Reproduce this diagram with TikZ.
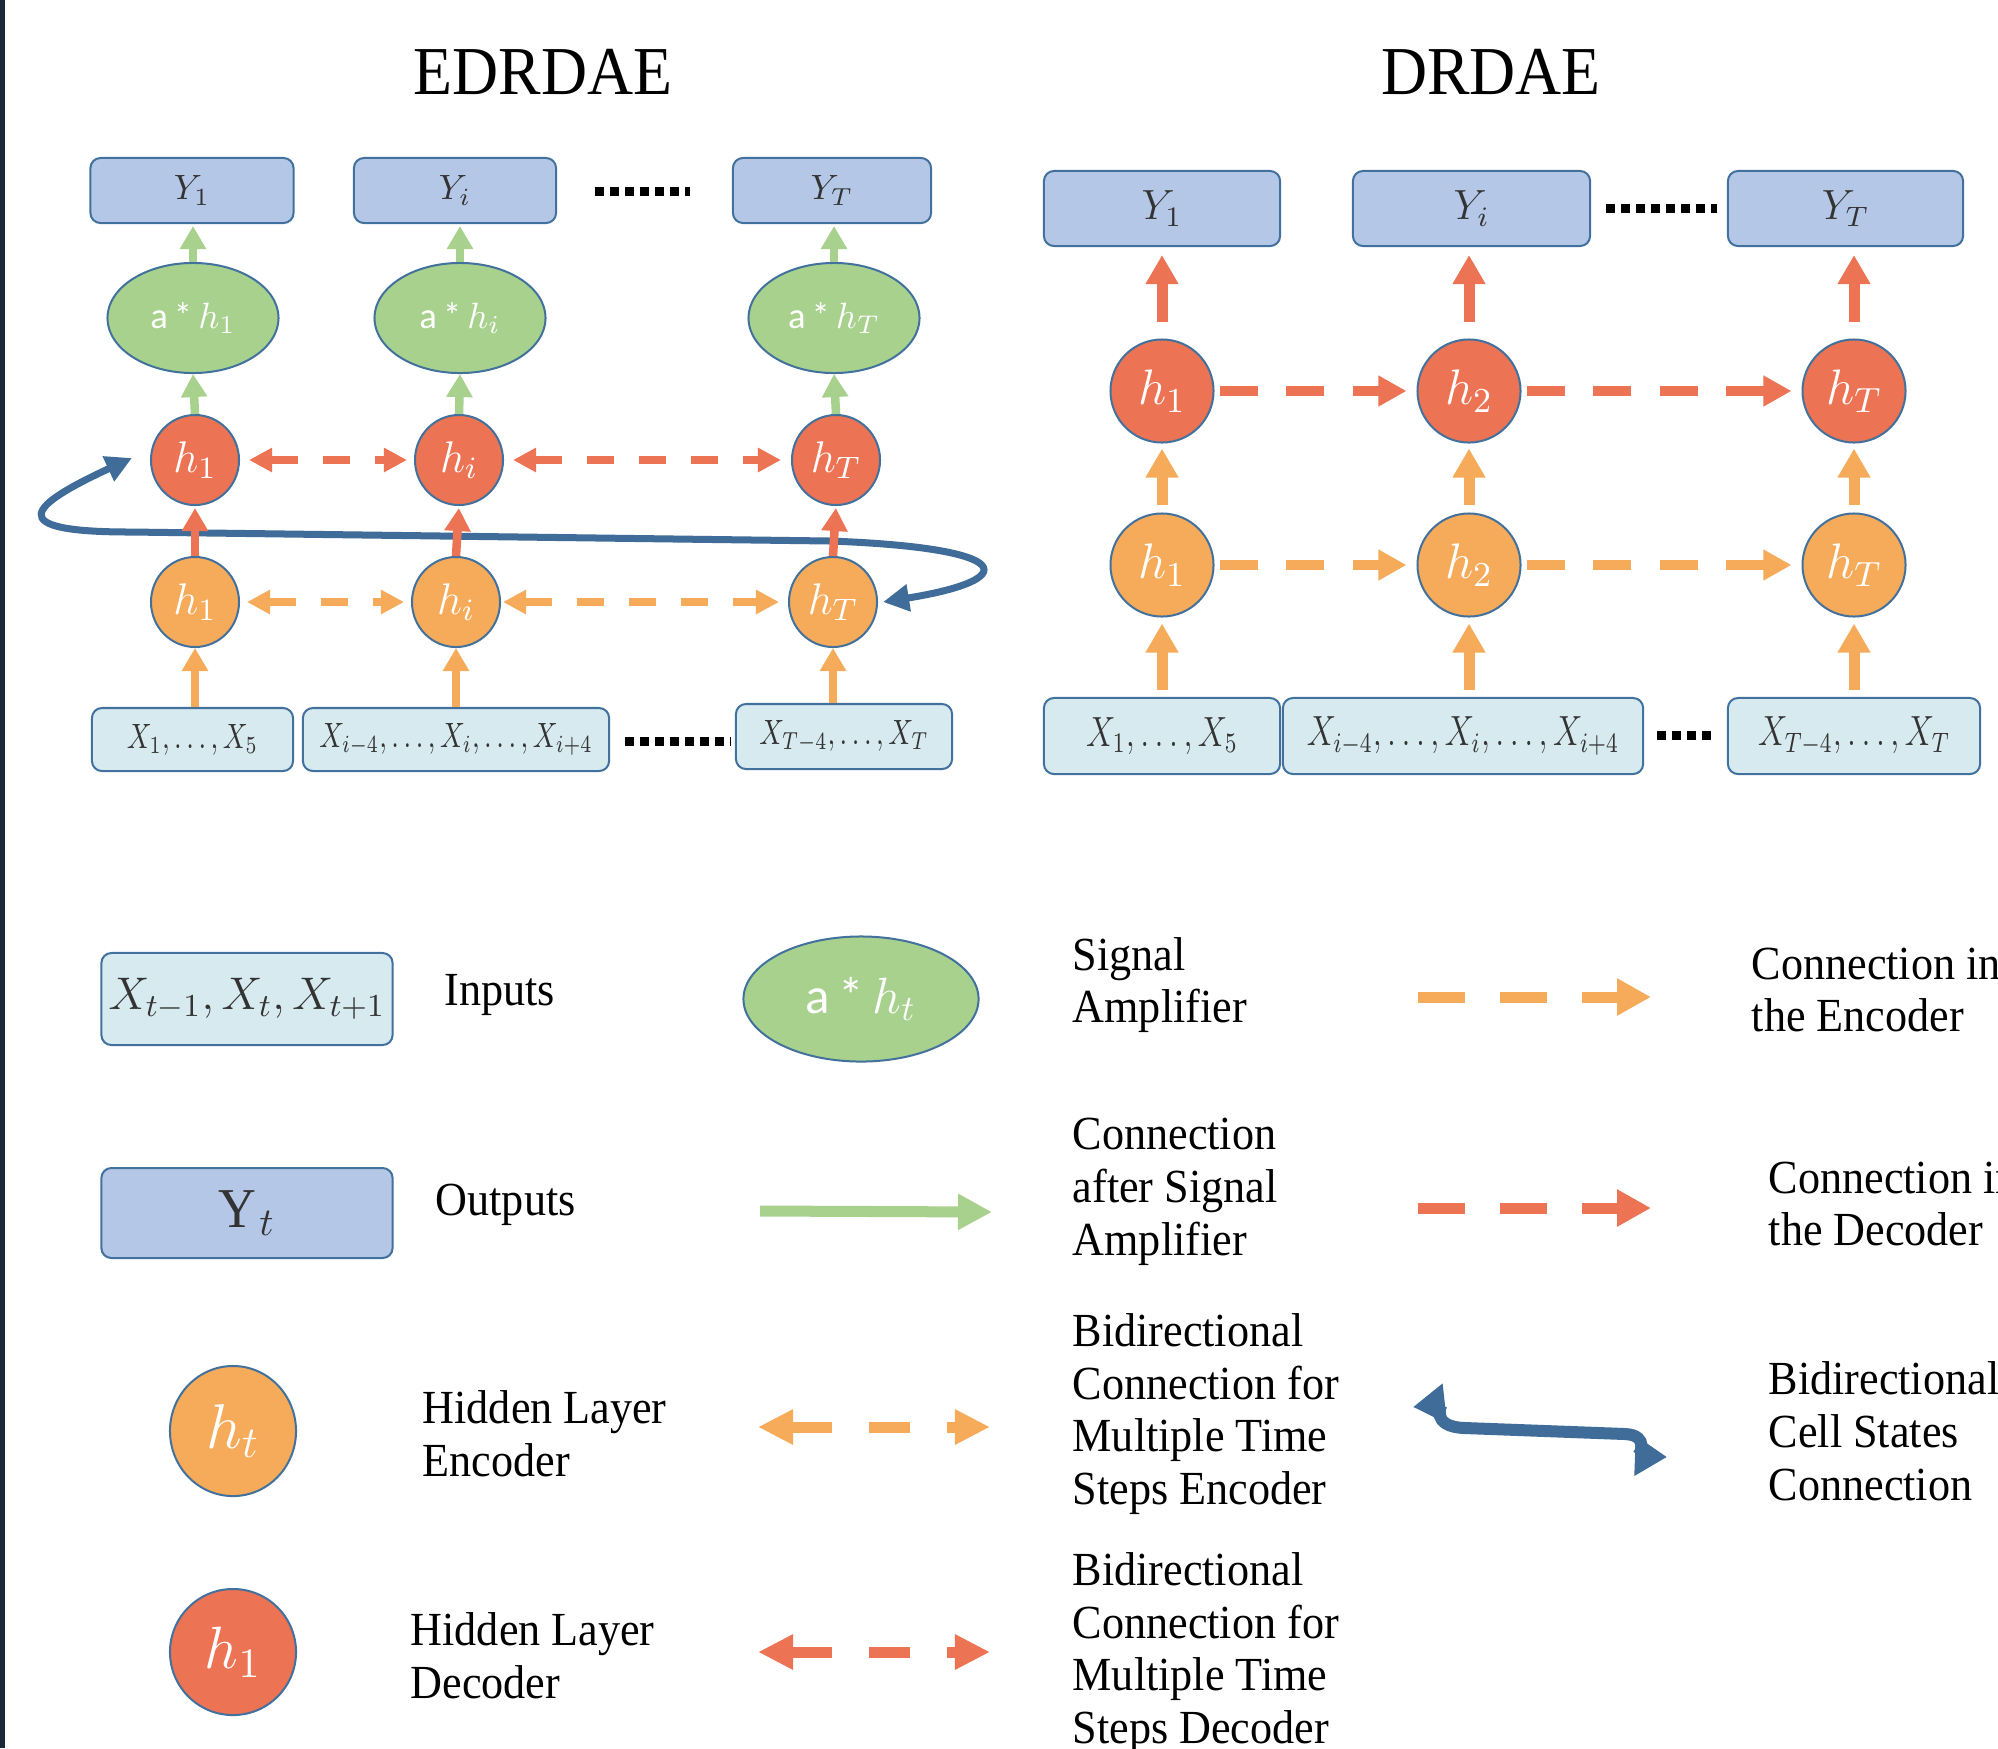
\documentclass[tikz,border=0pt]{standalone}
\usepackage{fix-cm}
\usepackage{graphicx}
\usepackage{fontspec}
\setmainfont{Liberation Serif}[FakeStretch=0.93]
\newfontfamily\calib{Carlito}
\usetikzlibrary{arrows.meta,shapes.geometric}
\definecolor{ybox}{HTML}{B4C7E7}
\definecolor{xbox}{HTML}{D6EAF0}
\definecolor{edgeb}{HTML}{41719C}
\definecolor{gfill}{HTML}{A9D18E}
\definecolor{rfill}{HTML}{EC7353}
\definecolor{ofill}{HTML}{F5AB5A}
\definecolor{bcurve}{HTML}{3F6C98}
\definecolor{strip}{HTML}{1B2838}
\definecolor{txt}{HTML}{333333}
\newcommand{\narrow}[1]{\scalebox{0.78}[1]{$#1$}}
\tikzset{
  ybx/.style={draw=edgeb, fill=ybox, line width=0.02cm, rounded corners=0.1cm, inner sep=0, text=txt},
  xbx/.style={draw=edgeb, fill=xbox, line width=0.02cm, rounded corners=0.1cm, inner sep=0, text=txt},
  gell/.style={ellipse, draw=edgeb, fill=gfill, line width=0.02cm, inner sep=0, text=white},
  rnd/.style={ellipse, draw=edgeb, fill=rfill, line width=0.02cm, inner sep=0, text=white},
  ond/.style={ellipse, draw=edgeb, fill=ofill, line width=0.02cm, inner sep=0, text=white},
  lbl/.style={anchor=west, align=left, inner sep=0, text=black, font=\fontsize{13.5pt}{15pt}\selectfont},
  ttl/.style={inner sep=0, text=black, font=\fontsize{19.5pt}{22pt}\selectfont},
  upA/.style={draw=#1, line width=0.085cm, -{Triangle[length=0.23cm,width=0.25cm]}},
  upB/.style={draw=#1, line width=0.11cm, -{Triangle[length=0.29cm,width=0.31cm]}},
  dashA/.style={draw=#1, line width=0.085cm, dash pattern=on 0.27cm off 0.25cm,
     {Triangle[length=0.23cm,width=0.23cm]}-{Triangle[length=0.23cm,width=0.23cm]}},
  dashB/.style={draw=#1, line width=0.1cm, dash pattern=on 0.38cm off 0.285cm,
     -{Triangle[length=0.28cm,width=0.29cm]}},
  dotsq/.style={draw=black, line width=0.09cm, dash pattern=on 0.085cm off 0.065cm},
  fA/.style={font=\fontsize{10pt}{11pt}\selectfont},
  fB/.style={font=\fontsize{12pt}{13pt}\selectfont},
  fhA/.style={font=\fontsize{12.6pt}{14pt}\selectfont},
  fhB/.style={font=\fontsize{14.2pt}{16pt}\selectfont},
  fg/.style={font=\fontsize{10.4pt}{12pt}\selectfont},
}
\begin{document}
\begin{tikzpicture}[x=0.01cm,y=-0.01cm]
\useasboundingbox (0,0) rectangle (1998,1748);
\clip (0,0) rectangle (1998,1748);
\fill[white] (0,0) rectangle (1998,1748);
\fill[strip] (0,0) rectangle (5,1748);

% ---------------- titles
\node[ttl] (t1) at (543,72) {EDRDAE};
\node[ttl] (t2) at (1491,72) {DRDAE};

% ---------------- EDRDAE
\node[ybx, fA, minimum width=2.03cm, minimum height=0.65cm] (ya1) at (192,190.5) {$Y_1$};
\node[ybx, fA, minimum width=2.02cm, minimum height=0.65cm] (ya2) at (455,190.5) {$Y_i$};
\node[ybx, fA, minimum width=1.98cm, minimum height=0.65cm] (ya3) at (832,190.5) {$Y_T$};

\node[gell, fg, minimum width=1.71cm, minimum height=1.10cm] (ga1) at (193,318) {{\calib a\,*\,}$h_1$};
\node[gell, fg, minimum width=1.71cm, minimum height=1.10cm] (ga2) at (460,318) {{\calib a\,*\,}$h_i$};
\node[gell, fg, minimum width=1.71cm, minimum height=1.10cm] (ga3) at (834,318) {{\calib a\,*\,}$h_T$};

\node[rnd, fhA, minimum width=0.88cm, minimum height=0.90cm] (ra1) at (195,460) {$h_1$};
\node[rnd, fhA, minimum width=0.88cm, minimum height=0.90cm] (ra2) at (459,460) {$h_i$};
\node[rnd, fhA, minimum width=0.88cm, minimum height=0.90cm] (ra3) at (836,460) {$h_T$};

\node[ond, fhA, minimum width=0.88cm, minimum height=0.90cm] (oa1) at (195,602) {$h_1$};
\node[ond, fhA, minimum width=0.88cm, minimum height=0.90cm] (oa2) at (456,602) {$h_i$};
\node[ond, fhA, minimum width=0.88cm, minimum height=0.90cm] (oa3) at (833,602) {$h_T$};

\node[xbx, fA, minimum width=2.01cm, minimum height=0.63cm] (xa1) at (192.5,739.5) {\narrow{X_1,\dots,X_5}};
\node[xbx, fA, minimum width=3.06cm, minimum height=0.63cm] (xa2) at (456,739.5) {\narrow{X_{i-4},\dots,X_i,\dots,X_{i+4}}};
\node[xbx, fA, minimum width=2.16cm, minimum height=0.65cm] (xa3) at (844,736.5) {\narrow{X_{T-4},\dots,X_T}};

\coordinate (da1) at (595,191); \coordinate (da2) at (690,191);
\coordinate (db1) at (625,741); \coordinate (db2) at (731,741);
\draw[dotsq] (da1) -- (da2);
\draw[dotsq] (db1) -- (db2);

% blue cell-state curve
\draw[bcurve, line width=0.07cm, {Triangle[length=0.26cm,width=0.26cm]}-{Triangle[length=0.26cm,width=0.26cm]}]
  (ra1.west) ++(-0.18cm,0.02cm) coordinate (bs)
  (bs) .. controls (30,505) and (0,532) .. (130,532) -- (830,541) .. controls (1020,548) and (1020,580) .. ([xshift=0.05cm]oa3.east);

\foreach \i in {1,2,3} {
  \draw[upA=gfill, shorten >=0.02cm] (ga\i.north) -- (ga\i.north |- ya\i.south);
  \draw[upA=gfill] (ra\i.north) -- (ga\i.south);
  \draw[upA=rfill, shorten >=0.02cm] (oa\i.north) -- (ra\i.south);
  \draw[upA=ofill] (oa\i.south |- xa\i.north) -- (oa\i.south);
}
\draw[dashA=rfill, shorten <=0.09cm, shorten >=0.07cm] (ra1.east) -- (ra2.west);
\draw[dashA=rfill, shorten <=0.09cm, shorten >=0.1cm] (ra2.east) -- (ra3.west);
\draw[dashA=ofill, shorten <=0.07cm, shorten >=0.07cm] (oa1.east) -- (oa2.west);
\draw[dashA=ofill, shorten <=0.02cm, shorten >=0.09cm] (oa2.east) -- (oa3.west);

% ---------------- DRDAE
\node[ybx, fB, minimum width=2.36cm, minimum height=0.75cm] (yb1) at (1162,208.5) {$Y_1$};
\node[ybx, fB, minimum width=2.37cm, minimum height=0.75cm] (yb2) at (1471.5,208.5) {$Y_i$};
\node[ybx, fB, minimum width=2.35cm, minimum height=0.75cm] (yb3) at (1845.5,208.5) {$Y_T$};

\node[rnd, fhB, minimum width=1.03cm, minimum height=1.03cm] (rb1) at (1162,391) {$h_1$};
\node[rnd, fhB, minimum width=1.03cm, minimum height=1.03cm] (rb2) at (1469,391) {$h_2$};
\node[rnd, fhB, minimum width=1.03cm, minimum height=1.03cm] (rb3) at (1854,391) {$h_T$};

\node[ond, fhB, minimum width=1.03cm, minimum height=1.03cm] (ob1) at (1162,565) {$h_1$};
\node[ond, fhB, minimum width=1.03cm, minimum height=1.03cm] (ob2) at (1469,565) {$h_2$};
\node[ond, fhB, minimum width=1.03cm, minimum height=1.03cm] (ob3) at (1854,565) {$h_T$};

\node[xbx, fB, minimum width=2.36cm, minimum height=0.76cm] (xb1) at (1162,736) {\narrow{X_1,\dots,X_5}};
\node[xbx, fB, minimum width=3.60cm, minimum height=0.76cm] (xb2) at (1463,736) {\narrow{X_{i-4},\dots,X_i,\dots,X_{i+4}}};
\node[xbx, fB, minimum width=2.52cm, minimum height=0.76cm] (xb3) at (1854,736) {\narrow{X_{T-4},\dots,X_T}};

\coordinate (dc1) at (1606,208); \coordinate (dc2) at (1717,208);
\coordinate (dd1) at (1657,735); \coordinate (dd2) at (1715,735);
\draw[dotsq] (dc1) -- (dc2);
\draw[dotsq] (dd1) -- (dd2);

\foreach \i in {1,2,3} {
  \draw[upB=rfill, shorten <=0.16cm, shorten >=0.08cm] (rb\i.north) -- (rb\i.north |- yb\i.south);
  \draw[upB=ofill, shorten <=0.07cm, shorten >=0.05cm] (ob\i.north) -- (rb\i.south);
  \draw[upB=ofill, shorten <=0.07cm, shorten >=0.06cm] (ob\i.south |- xb\i.north) -- (ob\i.south);
}
\draw[dashB=rfill, shorten <=0.05cm, shorten >=0.1cm] (rb1.east) -- (rb2.west);
\draw[dashB=rfill, shorten <=0.05cm, shorten >=0.1cm] (rb2.east) -- (rb3.west);
\draw[dashB=ofill, shorten <=0.05cm, shorten >=0.1cm] (ob1.east) -- (ob2.west);
\draw[dashB=ofill, shorten <=0.05cm, shorten >=0.1cm] (ob2.east) -- (ob3.west);

% ---------------- legend
\node[xbx, font=\fontsize{13pt}{15pt}\selectfont, minimum width=2.91cm, minimum height=0.92cm] (lx) at (247,999) {$X_{t-1},X_t,X_{t+1}$};
\node[ybx, font=\fontsize{16pt}{18pt}\selectfont, minimum width=2.91cm, minimum height=0.90cm] (ly) at (247,1213) {$\mathrm{Y}_t$};
\node[ond, font=\fontsize{18pt}{20pt}\selectfont, minimum width=1.26cm, minimum height=1.30cm] (lo) at (233,1431) {$h_t$};
\node[rnd, font=\fontsize{17pt}{19pt}\selectfont, minimum width=1.26cm, minimum height=1.26cm] (lr) at (233,1652) {$h_1$};
\node[gell, font=\fontsize{14.5pt}{16pt}\selectfont, minimum width=2.35cm, minimum height=1.25cm] (lg) at (861,999) {{\calib a\,*\,}$h_t$};

\node[lbl] (l1) at (444,995) {Inputs};
\node[lbl] (l2) at (435,1205) {Outputs};
\node[lbl] (l3) at (422,1434) {Hidden Layer\\Encoder};
\node[lbl] (l4) at (410,1656) {Hidden Layer\\Decoder};
\node[lbl] (l5) at (1072,985) {Signal\\Amplifier};
\node[lbl] (l6) at (1072,1192) {Connection\\after Signal\\Amplifier};
\node[lbl] (l7) at (1072,1414) {Bidirectional\\Connection for\\Multiple Time\\Steps Encoder};
\node[lbl] (l8) at (1072,1653) {Bidirectional\\Connection for\\Multiple Time\\Steps Decoder};
\node[lbl] (l9) at (1751,990) {Connection in\\the Encoder};
\node[lbl] (l10) at (1768,1204) {Connection in\\the Decoder};
\node[lbl] (l11) at (1768,1431) {Bidirectional\\Cell States\\Connection};

\coordinate (ga) at (760,1211); \coordinate (gb) at (992,1212);
\draw[draw=gfill, line width=0.11cm, -{Triangle[length=0.34cm,width=0.34cm]}] (ga) -- (gb);

\coordinate (oa) at (1418,997); \coordinate (ob) at (1651,997);
\draw[draw=ofill, line width=0.11cm, dash pattern=on 0.47cm off 0.35cm, -{Triangle[length=0.34cm,width=0.35cm]}] (oa) -- (ob);
\coordinate (ra) at (1418,1208); \coordinate (rb) at (1651,1208);
\draw[draw=rfill, line width=0.11cm, dash pattern=on 0.47cm off 0.35cm, -{Triangle[length=0.34cm,width=0.35cm]}] (ra) -- (rb);

\coordinate (bo1) at (758,1427); \coordinate (bo2) at (990,1427);
\draw[draw=ofill, line width=0.11cm, dash pattern=on 0.41cm off 0.37cm,
  {Triangle[length=0.35cm,width=0.33cm]}-{Triangle[length=0.35cm,width=0.33cm]}] (bo1) -- (bo2);
\coordinate (br1) at (758,1652); \coordinate (br2) at (990,1652);
\draw[draw=rfill, line width=0.11cm, dash pattern=on 0.41cm off 0.37cm,
  {Triangle[length=0.35cm,width=0.33cm]}-{Triangle[length=0.35cm,width=0.33cm]}] (br1) -- (br2);

\coordinate (bl1) at (1413,1407); \coordinate (bl2) at (1667,1457);
\draw[bcurve, line width=0.12cm, {Triangle[length=0.32cm,width=0.38cm]}-{Triangle[length=0.32cm,width=0.38cm]}]
  (bl1) .. controls (1440,1404) and (1430,1427) .. (1465,1428) -- (1625,1434) .. controls (1650,1435) and (1640,1456) .. (bl2);
\end{tikzpicture}
\end{document}
